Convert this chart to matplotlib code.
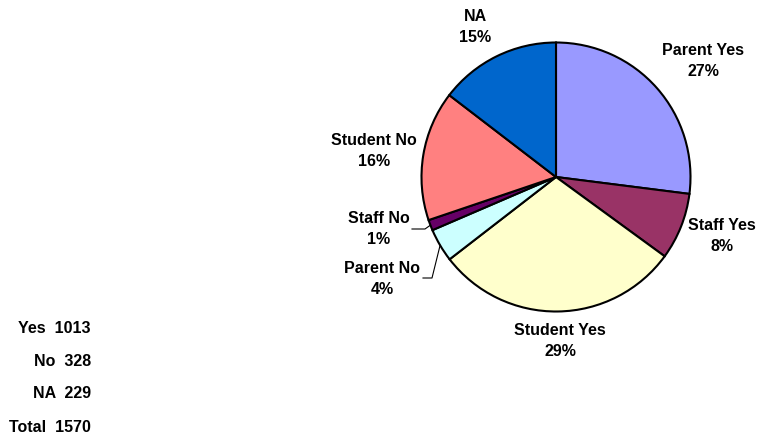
import matplotlib.pyplot as plt
import numpy as np

# survey responses by group
groups = ["Parent Yes", "Staff Yes", "Student Yes", "Parent No", "Staff No", "Student No", "NA"]
counts = [424, 126, 463, 63, 20, 245, 229]
colors = ["#9999FF", "#993366", "#FFFFCC", "#CCFFFF", "#660066", "#FF8080", "#0066CC"]

summary_labels = ["Yes", "No", "NA", "Total"]
summary_values = [sum(counts[:3]), sum(counts[3:6]), counts[6], sum(counts)]

W, H = 757, 440
cx, cy, r = 556, H - 177, 134.5

# label centres, pixels from top-left
label_pos = [(703, 61), (722, 236), (560, 341), (382, 279), (379, 229), (374, 151), (475, 27)]
# leader lines for the thin slices: (x start, x elbow, y)
leaders = {3: (423, 432, 278), 4: (412, 425, 229)}
summary_y = [328, 361, 394, 427]

plt.rcParams['font.family'] = ['Liberation Sans', 'DejaVu Sans']
fig = plt.figure(figsize=(W / 100, H / 100), dpi=100)
ax = fig.add_axes([0, 0, 1, 1])

wedges, _ = ax.pie(counts, colors=colors, startangle=90, counterclock=False,
                   center=(cx, cy), radius=r,
                   wedgeprops=dict(edgecolor="black", linewidth=1.5))
ax.set_xlim(0, W)
ax.set_ylim(0, H)
ax.set_aspect("equal")
ax.axis("off")

total = sum(counts)
for i, (name, c) in enumerate(zip(groups, counts)):
    x, y = label_pos[i]
    pct = round(100 * c / total)
    ax.text(x, H - y, f"{name}\n{pct}%", ha="center", va="center",
            fontsize=11.5, fontweight="bold", linespacing=1.5)

for i, (x0, x1, y) in leaders.items():
    w = wedges[i]
    mid = np.deg2rad((w.theta1 + w.theta2) / 2)
    ex, ey = cx + r * np.cos(mid), cy + r * np.sin(mid)
    ax.plot([x0, x1, ex], [H - y, H - y, ey], color="black", lw=0.8)

for lab, val, y in zip(summary_labels, summary_values, summary_y):
    ax.text(91, H - y, f"{lab}  {val}", ha="right", va="center",
            fontsize=11.5, fontweight="bold")

fig.savefig("out.png", dpi=100)
